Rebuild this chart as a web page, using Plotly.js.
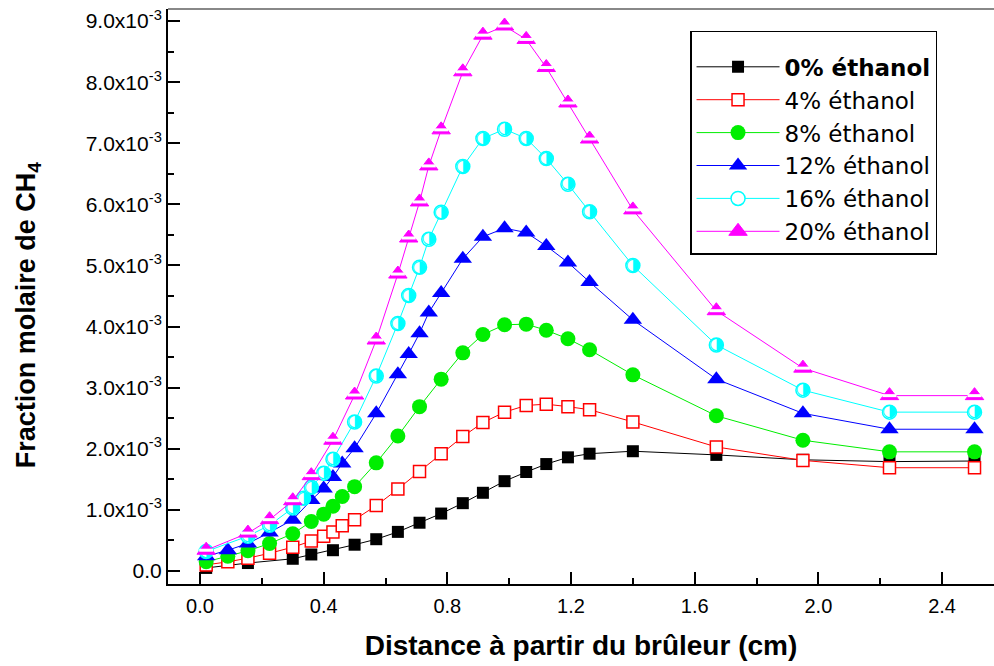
<!DOCTYPE html>
<html>
<head>
<meta charset="utf-8">
<script src="https://cdn.plot.ly/plotly-3.0.1.min.js"></script>
<style>html,body{margin:0;padding:0;background:#fff;}</style>
</head>
<body>
<div id="chart" style="width:994px;height:666px;"></div>
<script>
// ---- Data (y in units of 1e-3) ----
const names = ['<b>0% éthanol</b>', '4% éthanol', '8% éthanol', '12% éthanol', '16% éthanol', '20% éthanol'];

const x0 = [0.02, 0.155, 0.30, 0.36, 0.43, 0.50, 0.57, 0.64, 0.71, 0.78, 0.85, 0.915, 0.985, 1.055, 1.12, 1.19, 1.26, 1.40, 1.67, 1.95, 2.23, 2.505];
const y0 = [0.05, 0.13, 0.20, 0.27, 0.34, 0.43, 0.52, 0.64, 0.79, 0.94, 1.11, 1.28, 1.47, 1.62, 1.75, 1.86, 1.92, 1.96, 1.90, 1.82, 1.79, 1.80];

const x4 = [0.02, 0.09, 0.155, 0.225, 0.30, 0.36, 0.40, 0.43, 0.46, 0.50, 0.57, 0.64, 0.71, 0.78, 0.85, 0.915, 0.985, 1.055, 1.12, 1.19, 1.26, 1.40, 1.67, 1.95, 2.23, 2.505];
const y4 = [0.10, 0.15, 0.21, 0.29, 0.39, 0.49, 0.57, 0.64, 0.74, 0.84, 1.07, 1.34, 1.63, 1.92, 2.20, 2.43, 2.60, 2.71, 2.73, 2.69, 2.64, 2.44, 2.03, 1.81, 1.69, 1.69];

const x8 = [0.02, 0.09, 0.155, 0.225, 0.30, 0.36, 0.40, 0.43, 0.46, 0.50, 0.57, 0.64, 0.71, 0.78, 0.85, 0.915, 0.985, 1.055, 1.12, 1.19, 1.26, 1.40, 1.67, 1.95, 2.23, 2.505];
const y8 = [0.15, 0.24, 0.33, 0.45, 0.61, 0.81, 0.93, 1.06, 1.22, 1.38, 1.77, 2.21, 2.69, 3.14, 3.57, 3.87, 4.03, 4.04, 3.94, 3.80, 3.62, 3.21, 2.54, 2.14, 1.95, 1.95];

const x12 = [0.02, 0.09, 0.155, 0.225, 0.30, 0.36, 0.40, 0.43, 0.46, 0.50, 0.57, 0.64, 0.675, 0.71, 0.74, 0.78, 0.85, 0.915, 0.985, 1.055, 1.12, 1.19, 1.26, 1.40, 1.67, 1.95, 2.23, 2.505];
const y12 = [0.24, 0.34, 0.45, 0.63, 0.84, 1.16, 1.35, 1.54, 1.76, 2.01, 2.58, 3.22, 3.55, 3.89, 4.23, 4.55, 5.11, 5.47, 5.61, 5.54, 5.32, 5.05, 4.73, 4.11, 3.14, 2.58, 2.32, 2.32];

const x16 = [0.02, 0.155, 0.225, 0.30, 0.335, 0.36, 0.40, 0.43, 0.50, 0.57, 0.64, 0.675, 0.71, 0.74, 0.78, 0.85, 0.915, 0.985, 1.055, 1.12, 1.19, 1.26, 1.40, 1.67, 1.95, 2.23, 2.505];
const y16 = [0.32, 0.57, 0.75, 1.03, 1.19, 1.37, 1.60, 1.83, 2.44, 3.19, 4.05, 4.51, 4.97, 5.43, 5.87, 6.62, 7.08, 7.23, 7.08, 6.75, 6.33, 5.88, 5.00, 3.70, 2.96, 2.60, 2.60];

const x20 = [0.02, 0.155, 0.225, 0.30, 0.36, 0.43, 0.50, 0.57, 0.64, 0.675, 0.71, 0.74, 0.78, 0.85, 0.915, 0.985, 1.055, 1.12, 1.19, 1.26, 1.40, 1.67, 1.95, 2.23, 2.505];
const y20 = [0.34, 0.62, 0.84, 1.15, 1.56, 2.14, 2.88, 3.78, 4.86, 5.45, 6.04, 6.63, 7.22, 8.17, 8.77, 8.92, 8.70, 8.24, 7.66, 7.07, 5.91, 4.26, 3.32, 2.87, 2.87];

const yTickVals = [0, 1, 2, 3, 4, 5, 6, 7, 8, 9];
const yTickText = ['0.0', '1.0x10<sup>-3</sup>', '2.0x10<sup>-3</sup>', '3.0x10<sup>-3</sup>', '4.0x10<sup>-3</sup>',
  '5.0x10<sup>-3</sup>', '6.0x10<sup>-3</sup>', '7.0x10<sup>-3</sup>', '8.0x10<sup>-3</sup>', '9.0x10<sup>-3</sup>'];

// ---- Traces ----
const ln = (c) => ({color: c, width: 1});
const traces = [
  {x: x0, y: y0, name: names[0], mode: 'lines+markers', line: ln('#000000'),
   marker: {symbol: 'square', size: 12, color: '#000000'}},
  {x: x4, y: y4, name: names[1], mode: 'lines+markers', line: ln('#ff0000'),
   marker: {symbol: 'square', size: 12, color: '#ffffff', line: {color: '#ff0000', width: 1.5}}},
  {x: x8, y: y8, name: names[2], mode: 'lines+markers', line: ln('#00ee00'),
   marker: {symbol: 'circle', size: 15, color: '#00ee00'}},
  {x: x12, y: y12, name: names[3], mode: 'lines+markers', line: ln('#0000ff'),
   marker: {symbol: 'triangle-up', size: 16, color: '#0000ff'}},
  {x: x16, y: y16, name: names[4], mode: 'lines+markers', line: ln('#00ffff'),
   marker: {symbol: 'circle', size: 14, color: '#ffffff', line: {color: '#00ffff', width: 1.5}}},
  {x: x16, y: y16, mode: 'text', showlegend: false, hoverinfo: 'skip',
   text: x16.map(() => '\u25D1'), textposition: 'middle center',
   textfont: {family: 'DejaVu Sans', size: 17, color: '#00ffff'}},
  {x: x20, y: y20, name: names[5], mode: 'lines+markers', line: ln('#ff00ff'),
   marker: {symbol: 'triangle-up', size: 16, color: '#ff00ff', line: {color: '#ff00ff', width: 1}}},
  {x: x20, y: y20, mode: 'markers', showlegend: false, hoverinfo: 'skip',
   marker: {symbol: 'line-ew', size: 10, line: {color: '#ffffff', width: 3}}}
];

const layout = {
  width: 994, height: 666,
  margin: {l: 168, r: 0, t: 9, b: 82, pad: 0},
  paper_bgcolor: '#ffffff', plot_bgcolor: '#ffffff',
  font: {family: 'Liberation Sans, Arial, sans-serif', color: '#000000'},
  showlegend: true,
  xaxis: {
    range: [-0.1035, 2.568], tick0: 0, dtick: 0.4, tickformat: '.1f',
    ticks: 'inside', ticklen: 12, tickwidth: 2, tickcolor: '#000000',
    showline: true, linewidth: 2, linecolor: '#000000',
    showgrid: false, zeroline: false,
    tickfont: {size: 20}, ticklabelstandoff: 3,
    minor: {tick0: 0, dtick: 0.2, ticks: 'inside', ticklen: 6, tickwidth: 2, tickcolor: '#000000', showgrid: false},
    title: {text: '<b>Distance à partir du brûleur (cm)</b>', font: {size: 28}, standoff: 19}
  },
  yaxis: {
    range: [-0.213, 9.198], tickmode: 'array', tickvals: yTickVals, ticktext: yTickText,
    ticks: 'inside', ticklen: 12, tickwidth: 2, tickcolor: '#000000',
    showline: true, linewidth: 2, linecolor: '#000000',
    showgrid: false, zeroline: false,
    tickfont: {size: 21},
    minor: {tick0: 0, dtick: 0.5, ticks: 'inside', ticklen: 6, tickwidth: 2, tickcolor: '#000000', showgrid: false},
    title: {text: '<b>Fraction molaire de CH<sub>4</sub></b>&nbsp;&nbsp;&nbsp;&nbsp;&nbsp;', font: {size: 27}, standoff: 42}
  },
  legend: {
    x: 0.632, y: 0.962, xanchor: 'left', yanchor: 'top',
    bordercolor: '#000000', borderwidth: 1.5, bgcolor: '#ffffff',
    font: {family: 'DejaVu Sans, sans-serif', size: 23, color: '#000000'},
    itemwidth: 83, tracegroupgap: 0,
    title: {text: ' ', font: {size: 10}}
  },
  shapes: [
    {type: 'line', xref: 'paper', yref: 'paper', x0: 0, x1: 1, y0: 1, y1: 1, line: {color: '#888888', width: 2}}
  ]
};

Plotly.newPlot('chart', traces, layout, {displayModeBar: false, staticPlot: true});
</script>
</body>
</html>
